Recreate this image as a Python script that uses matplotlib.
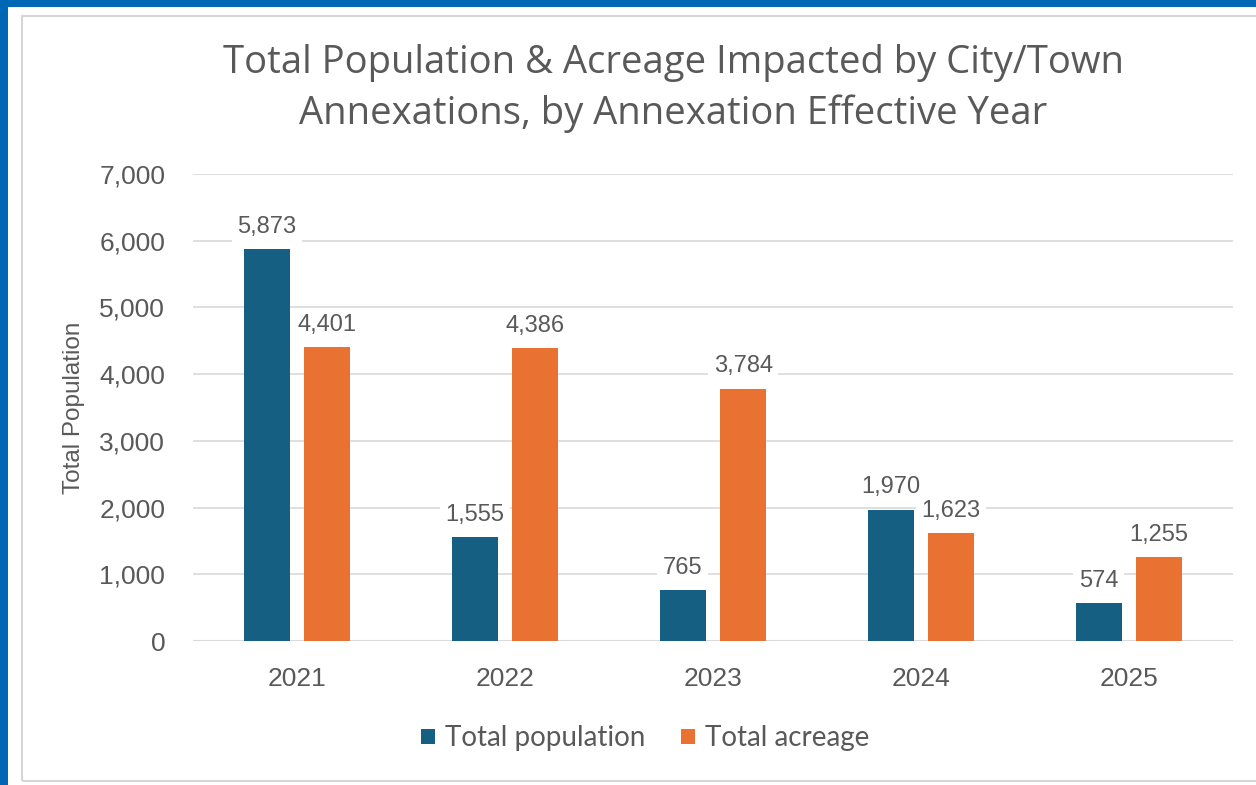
import matplotlib
matplotlib.use('Agg')
import matplotlib.pyplot as plt
import numpy as np
from matplotlib.patches import Rectangle

years = ['2021', '2022', '2023', '2024', '2025']
population = [5873, 1555, 765, 1970, 574]
acreage = [4401, 4386, 3784, 1623, 1255]
series_names = ['Total population', 'Total acreage']

BLUE = '#156082'
ORANGE = '#E97132'
TEXT = '#595959'
GRID = '#D9D9D9'

fig = plt.figure(figsize=(12.56, 7.85), dpi=100, facecolor='white')

# blue frame and light gray chart border
fig.patches.append(Rectangle((0, 0.991), 1, 0.009, transform=fig.transFigure,
                             facecolor='#0067B4', edgecolor='none', zorder=0))
fig.patches.append(Rectangle((0, 0), 0.0064, 1, transform=fig.transFigure,
                             facecolor='#0067B4', edgecolor='none', zorder=0))
fig.patches.append(Rectangle((0.0175, 0.005), 1.2, 0.975, transform=fig.transFigure,
                             facecolor='none', edgecolor='#D6D6D6', linewidth=1.5, zorder=0))

ax = fig.add_axes([0.1537, 0.1834, 0.828, 0.5949])
x = np.arange(len(years))
w = 0.22
gap = 0.035
b1 = ax.bar(x - w / 2 - gap, population, w, color=BLUE, label=series_names[0], zorder=2)
b2 = ax.bar(x + w / 2 + gap, acreage, w, color=ORANGE, label=series_names[1], zorder=2)

for bars in (b1, b2):
    for bar in bars:
        h = bar.get_height()
        ax.annotate(f'{h:,.0f}', (bar.get_x() + bar.get_width() / 2, h),
                    xytext=(0, 8), textcoords='offset points', ha='center', va='bottom',
                    fontsize=17, color=TEXT, family='Liberation Sans', zorder=3,
                    bbox=dict(facecolor='white', edgecolor='none', pad=4))

ax.set_xlim(-0.5, 4.5)
ax.set_ylim(0, 7000)
ax.set_yticks(range(0, 7001, 1000))
ax.set_yticklabels([f'{v:,}' for v in range(0, 7001, 1000)])
ax.set_xticks(x)
ax.set_xticklabels(years)
ax.tick_params(axis='both', length=0, labelsize=19, labelcolor=TEXT)
ax.tick_params(axis='y', pad=20)
ax.tick_params(axis='x', pad=19)
for lab in ax.get_xticklabels() + ax.get_yticklabels():
    lab.set_family('Liberation Sans')
ax.grid(axis='y', color=GRID, linewidth=1.2, zorder=0)
ax.set_axisbelow(True)
for s in ax.spines.values():
    s.set_visible(False)
ax.axhline(0, color=GRID, linewidth=1.5, zorder=1)

ax.set_ylabel('Total Population', fontsize=17.5, color=TEXT, family='Liberation Sans', labelpad=10)

fig.text(0.536, 0.887, 'Total Population & Acreage Impacted by City/Town\nAnnexations, by Annexation Effective Year',
         ha='center', va='center', fontsize=27.5, color=TEXT, family='Open Sans', linespacing=1.42)

leg = ax.legend(loc='upper center', bbox_to_anchor=(0.435, -0.127), ncol=2, frameon=False,
                handlelength=0.5, handleheight=0.5, handletextpad=0.35,
                columnspacing=1.3, labelcolor=TEXT, prop={'family': 'Lato', 'size': 20})

fig.savefig('out.png', dpi=100, facecolor='white')
